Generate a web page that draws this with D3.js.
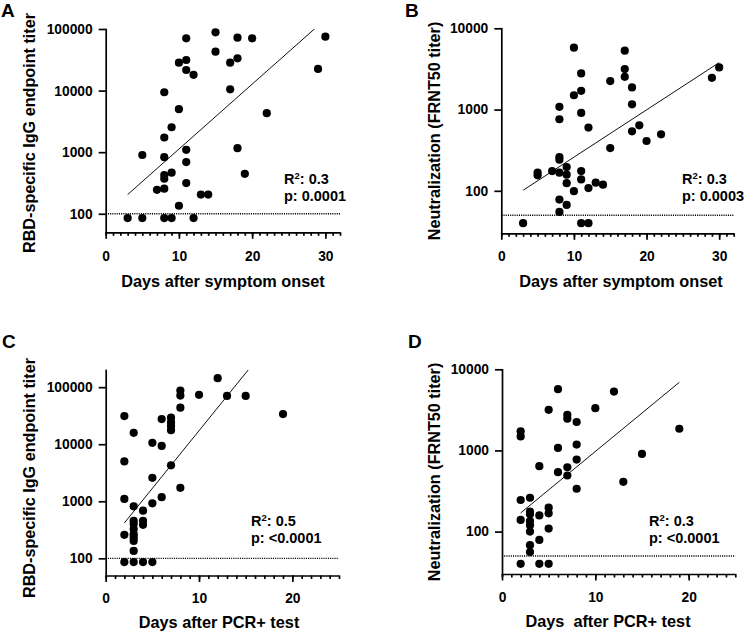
<!DOCTYPE html>
<html>
<head>
<meta charset="utf-8">
<script src="https://cdn.jsdelivr.net/npm/d3@7/dist/d3.min.js"></script>
<style>
  html, body { margin: 0; padding: 0; background: #fff; }
  svg { display: block; font-family: "Liberation Sans", Arial, Helvetica, sans-serif; }
</style>
</head>
<body>
<svg id="chart" width="744" height="633"></svg>
<script>
// ---------------- DATA ----------------
// Panel A: RBD-specific IgG endpoint titer vs days after symptom onset
const daysA = [3,5,5,7,8,8,8,8,8,8,8,9,9,9,10,10,10,11,11,11,11,11,11,12,12,13,14,15,15,17,17,18,18,18,19,20,22,29,30];
const titerA = [85,85,900,245,255,85,370,425,830,1730,9400,465,85,2540,5000,28400,135,70600,31400,21600,1090,690,315,18000,85,205,205,88300,42900,28400,10500,72300,33400,1160,445,70600,4290,22450,75100];

// Panel B: Neutralization (FRNT50 titer) vs days after symptom onset
const daysB = [3,5,5,7,8,8,8,8,8,8,8,9,9,9,9,10,10,10,11,11,11,11,11,11,12,12,12,13,14,15,15,17,17,17,18,18,18,19,20,22,29,30];
const titerB = [40,168,155,175,1079,760,260,242,167,78,55,196,158,124,67,5770,1500,99,2780,1700,910,175,138,40,600,108,40,126,119,2240,336,5300,3150,2530,1870,1160,540,640,410,495,2460,3300];

// Panel C: RBD-specific IgG endpoint titer vs days after PCR+ test
const daysC = [2,2,2,2,2,3,3,3,3,3,3,3,3,3,3,4,4,4,4,5,5,5,5,6,6,6,7,7,7,7,7,8,8,8,8,10,12,13,15,19];
const titerC = [31200,5000,1100,258,86,15850,816,456,398,325,265,232,202,135,86,684,456,387,86,10560,2580,922,86,27600,9350,1178,29150,24100,20800,17660,4260,87300,71300,43700,1720,73300,144000,70300,70300,33800];

// Panel D: Neutralization (FRNT50 titer) vs days after PCR+ test
const daysD = [2,2,2,2,2,3,3,3,3,3,3,3,3,4,4,4,4,5,5,5,5,5,6,6,6,7,7,7,7,8,8,8,8,10,12,13,15,19];
const titerD = [1720,1490,245,139,40,261,176,163,135,120,100,68,56,640,158,79,40,3170,197,168,109,40,5690,1074,540,2750,2460,621,491,2240,1180,772,337,3320,5320,410,905,1850];

// Linear fits of log10(titer) = intercept + slope * day, drawn over [xStart, xEnd]
const fitA = [1.996, 0.1054, 3, 30];
const fitB = [1.832, 0.0582, 3, 30];
const fitC = [2.216, 0.2021, 2, 19];
const fitD = [2.040, 0.0947, 2, 19];

// Stats labels
const statsA = ["0.3", "p: 0.0001"];
const statsB = ["0.3", "p: 0.0003"];
const statsC = ["0.5", "p: <0.0001"];
const statsD = ["0.3", "p: <0.0001"];

// Axis domains & ticks
const xDomainSymptom = [0, 32];
const xDomainPCR = [0, 25];
const xTicksSymptom = [0, 10, 20, 30];
const xTicksPCR = [0, 10, 20];
const yDomainRBD_A = [50, 100000];
const yDomainRBD_C = [50, 200000];
const yDomainNeut = [30, 10000];
const yTicksRBD = [100, 1000, 10000, 100000];
const yTicksNeut = [100, 1000, 10000];
const limitRBD = 100;
const limitNeut = 50;

const titles = {
  rbd: "RBD-specific IgG endpoint titer",
  neut: "Neutralization (FRNT50 titer)",
  symptom: "Days after symptom onset",
  pcr: "Days after PCR+ test",
  pcrD: "Days  after PCR+ test"
};

// ---------------- LAYOUT ----------------
const panels = [
  { letter: "A", lx: 1, ly: 17, xs: daysA, ys: titerA, fit: fitA, stats: statsA,
    xr: [105.7, 340], yr: [232.3, 29], xd: xDomainSymptom, yd: yDomainRBD_A,
    xt: xTicksSymptom, yt: yTicksRBD, limit: limitRBD,
    yTitle: titles.rbd, yTx: 35, yTy: 133, xTitle: titles.symptom, xTx: 223, xTy: 287,
    sx: 284, sy: 184, xPad: 12 },
  { letter: "B", lx: 405, ly: 17, xs: daysB, ys: titerB, fit: fitB, stats: statsB,
    xr: [501.3, 733.7], yr: [233.3, 28.3], xd: xDomainSymptom, yd: yDomainNeut,
    xt: xTicksSymptom, yt: yTicksNeut, limit: limitNeut,
    yTitle: titles.neut, yTx: 440, yTy: 131, xTitle: titles.symptom, xTx: 621, xTy: 287,
    sx: 682, sy: 184, xPad: 11 },
  { letter: "C", lx: 2, ly: 348, xs: daysC, ys: titerC, fit: fitC, stats: statsC,
    xr: [105.7, 339], yr: [575.5, 370], xd: xDomainPCR, yd: yDomainRBD_C,
    xt: xTicksPCR, yt: yTicksRBD, limit: limitRBD,
    yTitle: titles.rbd, yTx: 35, yTy: 478, xTitle: titles.pcr, xTx: 219, xTy: 628,
    sx: 251, sy: 526, xPad: 11 },
  { letter: "D", lx: 408, ly: 348, xs: daysD, ys: titerD, fit: fitD, stats: statsD,
    xr: [502, 735.3], yr: [574, 369.3], xd: xDomainPCR, yd: yDomainNeut,
    xt: xTicksPCR, yt: yTicksNeut, limit: limitNeut,
    yTitle: titles.neut, yTx: 440, yTy: 472, xTitle: titles.pcrD, xTx: 608, xTy: 627,
    sx: 649, sy: 526, xPad: 12 }
];

const svg = d3.select("#chart");
const defs = svg.append("defs");

panels.forEach((p, i) => {
  const x = d3.scaleLinear().domain(p.xd).range(p.xr);
  const y = d3.scaleLog().domain(p.yd).range(p.yr);
  const g = svg.append("g");

  // clip for the fit line
  defs.append("clipPath").attr("id", "clip" + i)
    .append("rect")
    .attr("x", p.xr[0]).attr("y", p.yr[1])
    .attr("width", p.xr[1] - p.xr[0]).attr("height", p.yr[0] - p.yr[1]);

  // panel letter
  g.append("text").attr("x", p.lx).attr("y", p.ly)
    .attr("font-size", 19).attr("font-weight", "bold").text(p.letter);

  // dotted detection limit
  g.append("line")
    .attr("x1", p.xr[0]).attr("x2", p.xr[1])
    .attr("y1", y(p.limit)).attr("y2", y(p.limit))
    .attr("stroke", "#000").attr("stroke-width", 1.3)
    .attr("stroke-dasharray", "1.1,1.1");

  // fit line
  const fitPts = [p.fit[2], p.fit[3]].map(d => [x(d), y(Math.pow(10, p.fit[0] + p.fit[1] * d))]);
  g.append("path")
    .attr("clip-path", "url(#clip" + i + ")")
    .attr("d", d3.line()(fitPts))
    .attr("stroke", "#111").attr("stroke-width", 1).attr("fill", "none");

  // points
  g.append("g").selectAll("circle")
    .data(p.xs.map((d, k) => [d, p.ys[k]]))
    .join("circle")
    .attr("cx", d => x(d[0])).attr("cy", d => y(d[1]))
    .attr("r", 4.1).attr("fill", "#000");

  // y axis
  const yAxis = g.append("g").attr("transform", `translate(${p.xr[0]},0)`)
    .call(d3.axisLeft(y).tickValues(p.yt).tickSize(7).tickSizeOuter(0).tickPadding(6)
      .tickFormat(d3.format("d")));

  // x axis minor ticks
  const xMinor = g.append("g").attr("transform", `translate(0,${p.yr[0]})`)
    .call(d3.axisBottom(x).tickValues(d3.range(p.xd[0], p.xd[1] + 1)).tickSize(3.5)
      .tickSizeOuter(0).tickFormat(""));
  xMinor.select(".domain").remove();
  // x axis major
  const xAxis = g.append("g").attr("transform", `translate(0,${p.yr[0]})`)
    .call(d3.axisBottom(x).tickValues(p.xt).tickSize(6.5).tickSizeOuter(0).tickPadding(p.xPad)
      .tickFormat(d3.format("d")));

  [yAxis, xMinor, xAxis].forEach(a => {
    a.selectAll("path, line").attr("stroke", "#000").attr("stroke-width", 1.7);
    a.selectAll("text").attr("fill", "#000").attr("font-size", 13.8)
      .attr("font-weight", "bold")
      .attr("font-family", '"Liberation Sans", Arial, sans-serif');
  });
  yAxis.select(".domain").attr("stroke-linecap", "square");

  // y title
  g.append("text")
    .attr("transform", `translate(${p.yTx},${p.yTy}) rotate(-90)`)
    .attr("text-anchor", "middle").attr("font-size", 16.2).attr("font-weight", "bold")
    .text(p.yTitle);

  // x title
  g.append("text")
    .attr("x", p.xTx).attr("y", p.xTy)
    .attr("text-anchor", "middle").attr("font-size", 16.3).attr("font-weight", "bold")
    .style("white-space", "pre")
    .text(p.xTitle);

  // stats
  const st = g.append("text").attr("x", p.sx).attr("y", p.sy)
    .attr("font-size", 14.5).attr("font-weight", "bold");
  st.append("tspan").text("R");
  st.append("tspan").attr("font-size", 9.5).attr("dy", -5.5).text("2");
  st.append("tspan").attr("dy", 5.5).text(": " + p.stats[0]);
  g.append("text").attr("x", p.sx).attr("y", p.sy + 17)
    .attr("font-size", 14.5).attr("font-weight", "bold")
    .text(p.stats[1]);
});
</script>
</body>
</html>
